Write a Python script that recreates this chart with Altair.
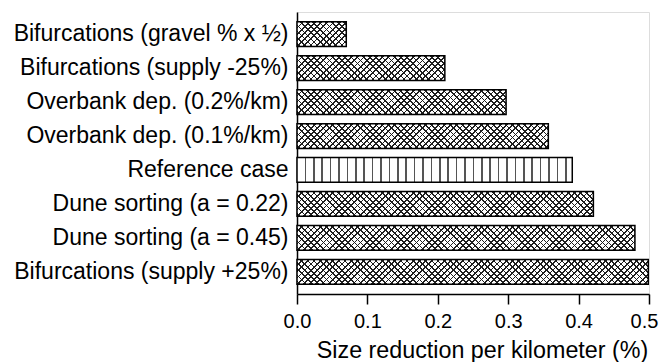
import math
import altair as alt
import pandas as pd

# ---- data ----
categories = [
    "Bifurcations (gravel % x ½)",
    "Bifurcations (supply -25%)",
    "Overbank dep. (0.2%/km)",
    "Overbank dep. (0.1%/km)",
    "Reference case",
    "Dune sorting (a = 0.22)",
    "Dune sorting (a = 0.45)",
    "Bifurcations (supply +25%)",
]
values = [0.070, 0.210, 0.297, 0.357, 0.391, 0.421, 0.480, 0.499]
patterns = ["cross", "cross", "cross", "cross", "vertical", "cross", "cross", "cross"]
x_ticks = [0.0, 0.1, 0.2, 0.3, 0.4, 0.5]
x_title = "Size reduction per kilometer (%)"

df = pd.DataFrame({"case": categories, "value": values, "pattern": patterns})

# ---- layout ----
PLOT_W, PLOT_H = 352, 282
X_MAX = 0.5
PAD_IN, PAD_OUT = 0.27, 0.29
FONT = "Liberation Sans, Arial, sans-serif"

step = PLOT_H / (len(categories) - PAD_IN + 2 * PAD_OUT)
band = step * (1 - PAD_IN)
px_per_unit = PLOT_W / X_MAX


def stripe_stops(length, period, thick, line_color, gap_color, first=0.0):
    """Hard-edged stripes along a gradient of given pixel length."""
    stops = [{"offset": 0.0, "color": gap_color}]
    c = first
    while c - thick / 2 < length:
        a = max(0.0, (c - thick / 2) / length)
        b = min(1.0, (c + thick / 2) / length)
        last = stops[-1]["offset"]
        a = max(a, last)
        b = max(b, a)
        stops += [
            {"offset": a, "color": gap_color},
            {"offset": a, "color": line_color},
            {"offset": b, "color": line_color},
            {"offset": b, "color": gap_color},
        ]
        c += period
    stops.append({"offset": 1.0, "color": gap_color})
    return stops


HATCH_P = 6.2          # spacing of hatch lines (px, horizontal)
HATCH_T = 1.2 * math.sqrt(2)
HATCH_COLOR = "#1e1e1e"
CLEAR = "rgba(255,255,255,0)"

y_enc = alt.Y(
    "case:N",
    scale=alt.Scale(domain=categories, paddingInner=PAD_IN, paddingOuter=PAD_OUT),
    axis=alt.Axis(
        title=None,
        ticks=False,
        labelPadding=9,
        labelFontSize=23,
        labelFont=FONT,
        labelColor="#000000",
        labelLimit=400,
        domainColor="#000000",
        domainWidth=1.5,
    ),
)
x_enc = alt.X(
    "value:Q",
    scale=alt.Scale(domain=[0, X_MAX], nice=False, zero=True),
    axis=alt.Axis(
        title=x_title,
        values=x_ticks,
        format=".1f",
        grid=False,
        tickSize=10,
        tickWidth=1.5,
        tickColor="#000000",
        domainColor="#000000",
        domainWidth=1.5,
        labelFontSize=20,
        labelFont=FONT,
        labelColor="#000000",
        labelPadding=7,
        labelFlush=False,
        labelOverlap=False,
        labelOffset={"condition": {"test": "datum.value >= 0.45", "value": -5}, "value": 0},
        titleFontSize=23.3,
        titleFont=FONT,
        titleFontWeight="normal",
        titleColor="#000000",
        titlePadding=8,
        titleX=185,
        titleAlign="center",
    ),
)

base = alt.Chart(df)
layers = []
for cat, val, pat in zip(categories, values, patterns):
    w = val * px_per_unit
    h = band
    sel = base.transform_filter(alt.datum.case == cat)
    if pat == "vertical":
        grad = {
            "gradient": "linear",
            "x1": 0, "y1": 0, "x2": 1, "y2": 0,
            "stops": stripe_stops(w, 8.4, 1.6, "#555555", "#ffffff", first=8.4),
        }
        layers.append(
            sel.mark_bar(fill=grad, stroke="#000000", strokeWidth=1.5)
            .encode(x=x_enc, y=y_enc)
        )
    else:
        s = (w + h) * w / (w * w + h * h)
        L = w + h
        grad_a = {
            "gradient": "linear",
            "x1": 0, "y1": 0, "x2": s, "y2": s * h / w,
            "stops": stripe_stops(L, HATCH_P, HATCH_T, HATCH_COLOR, "#ffffff"),
        }
        grad_b = {
            "gradient": "linear",
            "x1": 0, "y1": 1, "x2": s, "y2": 1 - s * h / w,
            "stops": stripe_stops(L, HATCH_P, HATCH_T, HATCH_COLOR, CLEAR,
                                  first=HATCH_P / 2),
        }
        layers.append(sel.mark_bar(fill=grad_a, strokeWidth=0).encode(x=x_enc, y=y_enc))
        layers.append(
            sel.mark_bar(fill=grad_b, stroke="#000000", strokeWidth=1.5)
            .encode(x=x_enc, y=y_enc)
        )

chart = (
    alt.layer(*layers)
    .properties(
        width=PLOT_W,
        height=PLOT_H,
        autosize=alt.AutoSizeParams(type="none"),
        padding={"left": 289, "top": 4, "right": 10, "bottom": 68},
    )
    .configure_view(stroke=None)
    .configure(background="#ffffff")
)

chart.save("out.html", embed_options={"renderer": "svg", "actions": False})
